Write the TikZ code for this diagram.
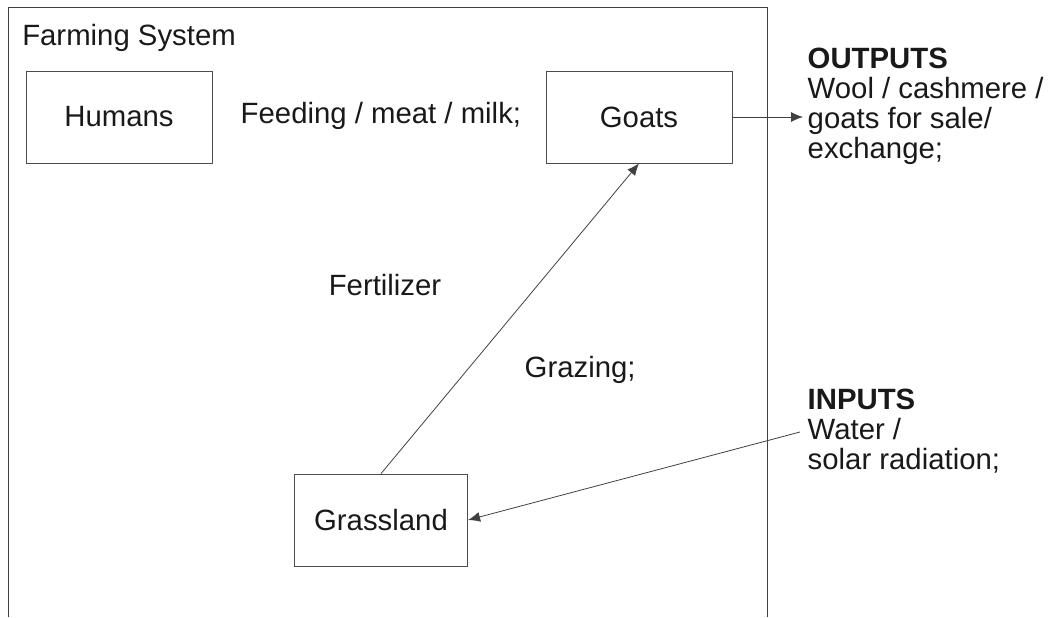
\documentclass[tikz,border=0pt]{standalone}
\usepackage{fontspec}
\setmainfont{Liberation Sans}
\usetikzlibrary{positioning, arrows, arrows.meta}

\begin{document}
\begin{tikzpicture}[x=0.75pt,y=-0.75pt]
\tikzstyle{every node}=[font=\fontsize{22}{22.5}\selectfont, text=black!90]
\tikzstyle{box}=[draw=black!70, semithick, minimum width=139.5pt, minimum height=69pt]
\tikzstyle{flow}=[draw=black!75, semithick, -{Latex[length=9pt,width=7.5pt]}]

\useasboundingbox (0,0) rectangle (1052,617);
% system frame, open at the bottom
\draw[black!75, semithick] (8,617) -- (8,7) -- (767,7) -- (767,617);

\node[anchor=base west, inner sep=0pt] (title) at (22,46) {Farming System};

\node[box] (H) at (119,117) {Humans};
\node[box] (G) at (639,117) {Goats};
\node[box, minimum width=130pt] (L) at (381,520) {Grassland};

\node[anchor=west] (feed) at (236,116) {Feeding / meat / milk;};
\node (fert) at (385,285) {Fertilizer};
\node[anchor=west] (graz) at (520,370) {Grazing;};

\node[anchor=north west, align=left] (out) at (803,43) {\textbf{OUTPUTS}\\Wool / cashmere /\\goats for sale/\\exchange;};
\node[anchor=north west, align=left] (in) at (803,384) {\textbf{INPUTS}\\Water /\\solar radiation;};
\coordinate (win) at (800,432);

\draw[flow] (G.east) -- (G.east -| out.west);
\draw[flow] (L.north) -- (G.south);
\draw[flow] (win) -- (L.east);
\end{tikzpicture}
\end{document}
